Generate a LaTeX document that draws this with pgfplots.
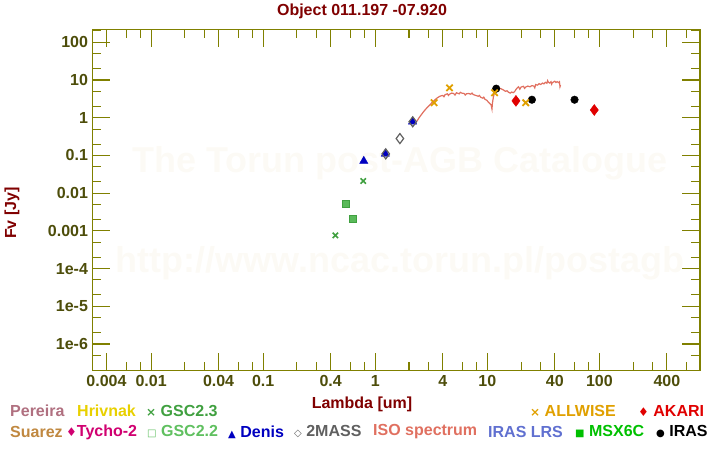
\documentclass[border=0pt]{standalone}
\usepackage{fontspec}
\setmainfont{Liberation Sans}
\newfontfamily\sym{DejaVu Sans}
\usepackage{pgfplots}
\pgfplotsset{compat=1.18}
\definecolor{axcol}{RGB}{128,128,0}
\definecolor{tickcol}{RGB}{77,77,10}
\definecolor{titcol}{RGB}{128,0,0}
\definecolor{wm}{RGB}{252,250,245}
\definecolor{cPereira}{RGB}{176,112,128}
\definecolor{cHrivnak}{RGB}{232,208,0}
\definecolor{cSuarez}{RGB}{192,136,64}
\definecolor{cTycho}{RGB}{208,0,112}
\definecolor{cGSCa}{RGB}{64,160,64}
\definecolor{cGSCb}{RGB}{96,192,96}
\definecolor{cDenis}{RGB}{0,0,192}
\definecolor{cMASS}{RGB}{96,96,96}
\definecolor{cISO}{RGB}{224,112,96}
\definecolor{cLRS}{RGB}{96,112,208}
\definecolor{cMSX}{RGB}{0,192,0}
\definecolor{cWISE}{RGB}{224,160,0}
\definecolor{cAKARI}{RGB}{224,0,0}
\begin{document}
\begin{tikzpicture}[x=1pt,y=1pt,font=\fontsize{16}{18}\selectfont\bfseries]
\path (0,0) rectangle (720,450);
% watermark
\node[color=wm,font=\fontsize{36}{40}\selectfont\bfseries] at (400,287) {The Torun post-AGB Catalogue};
\node[color=wm,font=\fontsize{36}{40}\selectfont\bfseries] at (400,187) {http://www.ncac.torun.pl/postagb};
\begin{axis}[
  at={(92.5pt,79.3pt)}, anchor=south west,
  width=607.5pt, height=341.4pt, scale only axis,
  xmode=log, ymode=log,
  xmin=0.003, xmax=790, ymin=1.96e-7, ymax=221,
  axis line style={axcol, line width=1.2pt},
  tick style={axcol, line width=1.1pt},
  tick align=inside,
  major tick length=18pt, minor tick length=9pt,
  xtick={0.004,0.01,0.04,0.1,0.4,1,4,10,40,100,400},
  xticklabels={0.004,0.01,0.04,0.1,0.4,1,4,10,40,100,400},
  minor xtick={0.006,0.008,0.02,0.03,0.06,0.08,0.2,0.3,0.6,0.8,2,3,6,8,20,30,60,80,200,300,600},
  ytick={1e-6,1e-5,1e-4,1e-3,1e-2,1e-1,1,10,100},
  yticklabels={1e-6,1e-5,1e-4,0.001,0.01,0.1,1,10,100},
  minor ytick={2e-7,5e-7,2e-6,5e-6,2e-5,5e-5,2e-4,5e-4,2e-3,5e-3,2e-2,5e-2,0.2,0.5,2,5,20,50,200},
  /pgf/number format/assume math mode=true,
  tick label style={font=\fontsize{16}{18}\selectfont\bfseries, color=tickcol},
  xticklabel style={yshift=-1pt},
  yticklabel style={xshift=-1pt},
  clip=false,
]
% ISO spectrum
\addplot[cISO, line width=1.2pt, mark=none] coordinates {
(2.35,0.80)(2.45,0.98)(2.6,1.25)(2.75,1.55)(2.9,1.85)(3.05,2.15)(3.2,2.5)(3.35,2.85)
(3.5,3.2)(3.65,3.5)(3.8,3.75)(4.0,3.9)(4.1,3.6)(4.2,4.1)(4.4,4.3)(4.5,3.9)(4.6,4.2)(4.8,4.5)(5.0,4.4)
(5.15,4.0)(5.3,4.6)(5.6,4.3)(5.75,4.7)(5.9,4.5)(6.2,4.4)(6.35,4.0)(6.5,4.3)(6.8,4.4)(7.1,4.2)(7.3,4.5)(7.5,4.1)(7.9,3.9)
(8.3,3.7)(8.5,3.9)(8.7,3.5)(9.1,3.3)(9.3,3.5)(9.5,3.1)(9.9,2.9)(10.2,2.6)(10.5,2.4)(10.8,2.2)(11.0,1.7)
(11.1,2.4)(11.3,3.4)(11.6,4.8)(12.0,5.8)(12.5,6.3)(13.0,6.0)(13.5,5.7)(14.0,5.4)
(14.5,5.0)(15.0,5.2)(15.5,4.7)(16.0,4.5)(16.5,4.8)(17.0,4.6)(17.5,4.9)(18.0,5.6)
(18.5,6.2)(19.0,6.6)(19.5,5.7)(20.0,6.5)(21,6.8)(21.5,6.0)(22,6.5)(23,6.9)(24,6.6)(25,7.1)
(26,6.9)(26.5,6.2)(27,7.6)(28,7.3)(29,8.0)(30,7.6)(31,8.3)(32,7.9)(33,8.7)(34,8.2)(34.5,9.6)(35,8.8)
(36,8.3)(37,9.0)(37.5,7.8)(38,8.5)(39,8.9)(40,9.3)(41,8.6)(42,9.1)(43,8.5)(44,9.0)(44.5,6.6)(45,7.3)
};
% GSC2.3
\addplot[only marks, mark=x, mark size=3.8pt, cGSCa, line width=1.6pt] coordinates {(0.44,7.6e-4)(0.78,0.021)};
% GSC2.2
\addplot[only marks, mark=square*, mark size=3.5pt, draw=cGSCa, fill=cGSCb!80!cGSCa] coordinates {(0.54,0.0054)(0.635,0.0021)};
% Denis
\addplot[only marks, mark=triangle*, mark size=4.8pt, cDenis] coordinates {(0.79,0.071)(1.23,0.11)(2.15,0.78)};
% 2MASS
\addplot[only marks, mark=diamond, mark size=5pt, cMASS, line width=1.2pt] coordinates {(1.24,0.11)(1.66,0.28)(2.16,0.78)};
% IRAS
\addplot[only marks, mark=*, mark size=3.8pt, black] coordinates {(12,5.9)(25,3.0)(60,3.0)};
% AKARI
\addplot[only marks, mark=diamond*, mark size=5.5pt, cAKARI] coordinates {(18,2.8)(90,1.6)};
% ALLWISE
\addplot[only marks, mark=x, mark size=4.5pt, cWISE, line width=1.8pt] coordinates {(3.35,2.5)(4.6,6.2)(11.6,4.6)(22,2.5)};
\end{axis}
% title and labels
\node[color=titcol] at (362,439) {Object 011.197 -07.920};
\node[color=titcol, rotate=90] at (12,237) {Fv [Jy]};
\node[color=titcol] at (362,46) {Lambda [um]};
% legend row 1
\node[anchor=west, inner sep=0, color=cPereira] at (10,39) {Pereira};
\node[anchor=west, inner sep=0, color=cHrivnak] at (77,39) {Hrivnak};
\node[anchor=west, inner sep=0, color=cGSCa] at (146,39) {{\sym\fontsize{12}{14}\selectfont ×} GSC2.3};
\node[anchor=west, inner sep=0, color=cWISE] at (530,39) {{\sym\fontsize{12}{14}\selectfont ×} ALLWISE};
\node[anchor=west, inner sep=0, color=cAKARI] at (638,39) {{\sym\fontsize{12}{14}\selectfont ♦} AKARI};
% legend row 2
\node[anchor=west, inner sep=0, color=cSuarez] at (10,18) {Suarez};
\node[anchor=west, inner sep=0, color=cTycho] at (66,18) {{\sym\fontsize{12}{14}\selectfont ♦}Tycho-2};
\node[anchor=west, inner sep=0, color=cGSCb] at (147,18) {{\sym\fontsize{10}{14}\selectfont □} GSC2.2};
\node[anchor=west, inner sep=0, color=cDenis] at (228,18) {{\sym\fontsize{10}{14}\selectfont ▲} Denis};
\node[anchor=west, inner sep=0, color=cMASS] at (294,18) {{\sym\fontsize{10}{14}\selectfont ◇} 2MASS};
\node[anchor=west, inner sep=0, color=cISO] at (373,18) {ISO spectrum};
\node[anchor=west, inner sep=0, color=cLRS] at (488,18) {IRAS LRS};
\node[anchor=west, inner sep=0, color=cMSX] at (575,18) {{\sym\fontsize{10}{14}\selectfont ■} MSX6C};
\node[anchor=west, inner sep=0, color=black] at (656,18) {{\sym\fontsize{10}{14}\selectfont ●} IRAS};
\end{tikzpicture}
\end{document}
